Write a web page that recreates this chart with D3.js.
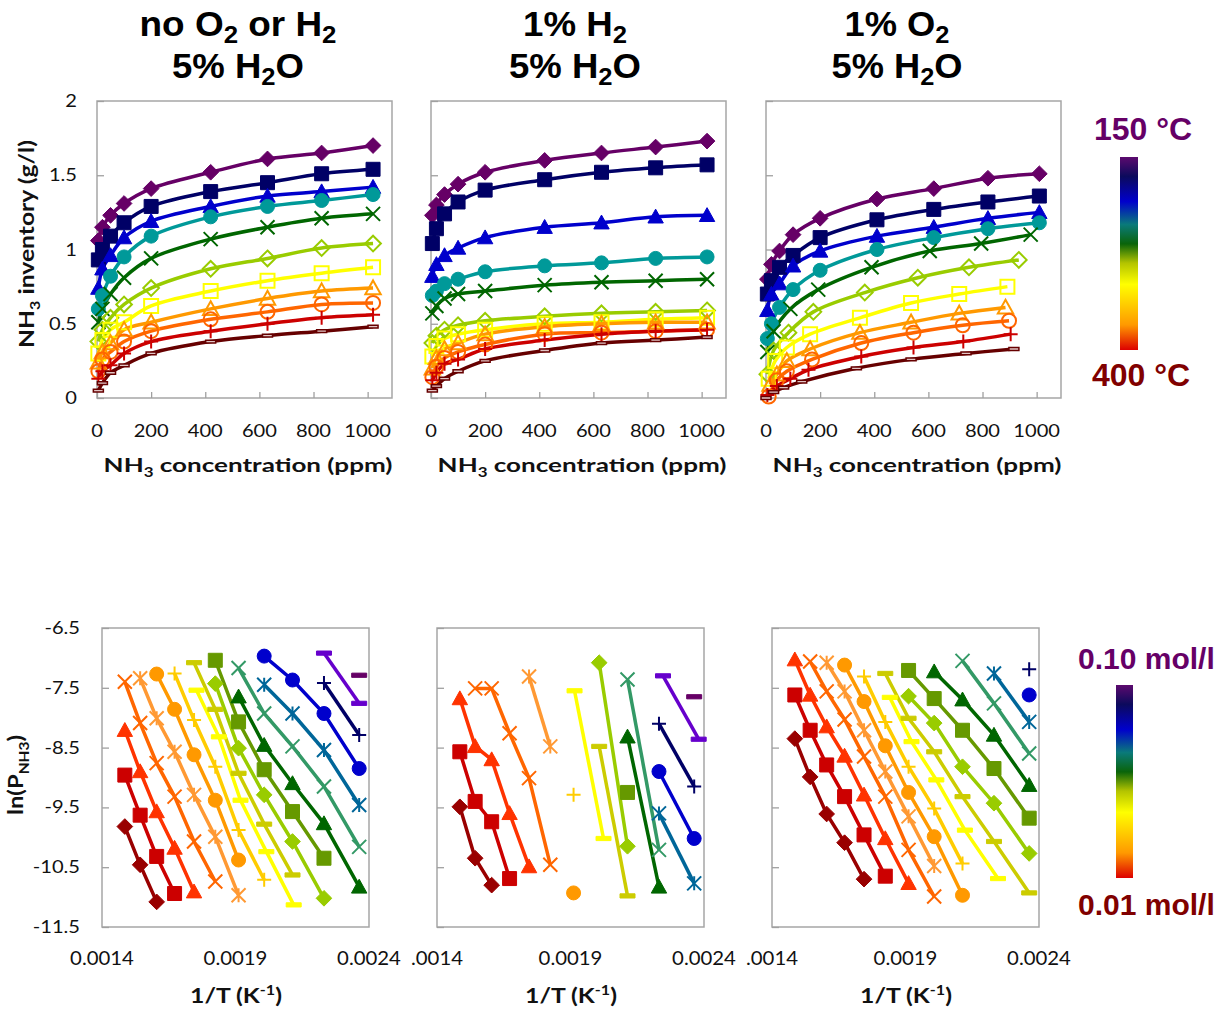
<!DOCTYPE html>
<html>
<head>
<meta charset="utf-8">
<script src="https://cdn.jsdelivr.net/npm/d3@7"></script>
<style>
  body { margin: 0; background: #fff; }
</style>
</head>
<body>
<div id="chart"></div>
<script>
// NH3 inventory isotherms (top row) and ln(P_NH3) vs 1/T (bottom row)

// ---------- top row ----------
const tempsC = [150, 175, 200, 225, 250, 275, 300, 325, 350, 375, 400];
const topColours = ["#660066", "#000066", "#0000cc", "#009999", "#006600", "#99cc00",
                    "#ffff00", "#ff9900", "#ff6600", "#cc0000", "#660000"];
const topMarkers = ["diamond", "square", "triangle", "circle", "x", "diamond-open",
                    "square-open", "triangle-open", "circle-open", "plus", "dash-open"];
const ppmShared = [5, 20, 50, 100, 200, 420, 630, 830, 1020];

// no O2 or H2, 5% H2O
const invNone = [
  [1.06, 1.15, 1.23, 1.31, 1.41, 1.52, 1.61, 1.65, 1.70],
  [0.93, 1.00, 1.09, 1.18, 1.29, 1.39, 1.45, 1.51, 1.54],
  [0.74, 0.87, 0.96, 1.08, 1.19, 1.29, 1.36, 1.39, 1.42],
  [0.60, 0.69, 0.82, 0.95, 1.09, 1.22, 1.29, 1.33, 1.37],
  [0.51, 0.60, 0.70, 0.81, 0.94, 1.07, 1.15, 1.21, 1.24],
  [0.38, 0.46, 0.54, 0.63, 0.74, 0.87, 0.94, 1.01, 1.04],
  [0.30, 0.39, 0.46, 0.51, 0.62, 0.72, 0.79, 0.84, 0.88],
  [0.24, 0.31, 0.37, 0.46, 0.51, 0.60, 0.67, 0.72, 0.74],
  [0.18, 0.26, 0.31, 0.38, 0.45, 0.53, 0.58, 0.63, 0.64],
  [0.13, 0.18, 0.22, 0.30, 0.38, 0.45, 0.50, 0.54, 0.56],
  [0.05, 0.10, 0.17, 0.22, 0.30, 0.38, 0.42, 0.45, 0.48]
];

// 1% H2, 5% H2O
const invH2 = [
  [1.23, 1.30, 1.37, 1.44, 1.52, 1.60, 1.65, 1.69, 1.73],
  [1.04, 1.14, 1.24, 1.32, 1.40, 1.47, 1.52, 1.55, 1.57],
  [0.82, 0.90, 0.96, 1.01, 1.08, 1.15, 1.18, 1.22, 1.23],
  [0.69, 0.72, 0.77, 0.80, 0.85, 0.89, 0.91, 0.94, 0.95],
  [0.57, 0.62, 0.67, 0.70, 0.72, 0.76, 0.78, 0.79, 0.80],
  [0.37, 0.42, 0.46, 0.49, 0.52, 0.55, 0.57, 0.58, 0.59],
  [0.28, 0.35, 0.40, 0.43, 0.46, 0.50, 0.51, 0.53, 0.54],
  [0.20, 0.27, 0.33, 0.37, 0.43, 0.48, 0.50, 0.51, 0.51],
  [0.14, 0.21, 0.27, 0.31, 0.36, 0.43, 0.44, 0.45, 0.46],
  [0.12, 0.17, 0.23, 0.26, 0.33, 0.39, 0.43, 0.45, 0.46],
  [0.05, 0.08, 0.13, 0.18, 0.25, 0.32, 0.37, 0.39, 0.41]
];

// 1% O2, 5% H2O (each temperature measured at its own concentrations)
const ppmO2 = [
  [5, 20, 50, 100, 200, 410, 620, 820, 1010],
  [5, 20, 50, 100, 200, 410, 620, 820, 1010],
  [5, 20, 50, 100, 200, 410, 620, 820, 1010],
  [5, 20, 50, 100, 200, 410, 620, 820, 1010],
  [5, 28, 90, 193, 390, 605, 795, 978],
  [5, 28, 83, 175, 365, 561, 750, 934],
  [10, 34, 77, 163, 347, 536, 714, 892],
  [15, 40, 77, 163, 347, 536, 714, 885],
  [10, 40, 77, 170, 352, 545, 727, 898],
  [5, 40, 90, 157, 352, 545, 729, 904],
  [0, 28, 65, 132, 334, 536, 739, 916]
];
const invO2 = [
  [0.80, 0.90, 0.99, 1.10, 1.21, 1.34, 1.41, 1.48, 1.51],
  [0.70, 0.79, 0.88, 0.96, 1.08, 1.20, 1.27, 1.32, 1.36],
  [0.59, 0.70, 0.77, 0.89, 0.99, 1.09, 1.15, 1.21, 1.25],
  [0.40, 0.50, 0.61, 0.73, 0.86, 1.00, 1.08, 1.14, 1.18],
  [0.31, 0.45, 0.60, 0.73, 0.88, 0.99, 1.04, 1.10],
  [0.16, 0.32, 0.44, 0.58, 0.71, 0.81, 0.88, 0.93],
  [0.13, 0.25, 0.34, 0.43, 0.54, 0.64, 0.70, 0.75],
  [0.09, 0.16, 0.25, 0.33, 0.44, 0.51, 0.57, 0.61],
  [0.01, 0.12, 0.18, 0.26, 0.37, 0.44, 0.49, 0.52],
  [0.02, 0.08, 0.13, 0.19, 0.28, 0.34, 0.38, 0.43],
  [0.00, 0.04, 0.07, 0.11, 0.20, 0.26, 0.30, 0.33]
];
const topTicksX = [0, 200, 400, 600, 800, 1000];
const topTicksY = [0, 0.5, 1, 1.5, 2];

// ---------- bottom row: [temperature degC, ln(P_NH3)] per NH3 loading ----------
const botColours = ["#990000", "#cc0000", "#ff3300", "#ff6600", "#ff9933", "#ff9900",
                    "#ffcc00", "#cccc00", "#ffff00", "#99cc00", "#669900", "#006600",
                    "#339966", "#006699", "#0000cc", "#000066", "#6600cc", "#660066"];
const botMarkers = ["diamond", "square", "triangle", "x", "star", "circle", "plus", "dash", "dash",
                    "diamond", "square", "triangle", "x", "star", "circle", "plus", "dash", "dash"];

const lnNone = [
  [[400, -9.82], [375, -10.46], [350, -11.08]],
  [[400, -8.96], [375, -9.63], [350, -10.32], [325, -10.94]],
  [[400, -8.21], [375, -8.90], [350, -9.57], [325, -10.18], [300, -10.91]],
  [[400, -7.40], [375, -8.09], [350, -8.76], [325, -9.32], [300, -10.07], [275, -10.74]],
  [[375, -7.34], [350, -8.01], [325, -8.57], [300, -9.29], [275, -9.99], [250, -10.97]],
  [[350, -7.27], [325, -7.86], [300, -8.62], [275, -9.38], [250, -10.38]],
  [[325, -7.26], [300, -8.04], [275, -8.82], [250, -9.88], [225, -10.71]],
  [[300, -7.08], [275, -7.86], [250, -8.93], [225, -9.78], [200, -10.63]],
  [[297, -7.54], [271, -8.32], [248, -9.38], [223, -10.24], [199, -11.13]],
  [[275, -7.43], [250, -8.51], [225, -9.29], [200, -10.07], [175, -11.02]],
  [[275, -7.04], [250, -8.07], [225, -8.87], [200, -9.57], [175, -10.35]],
  [[250, -7.65], [225, -8.46], [200, -9.10], [175, -9.77], [150, -10.83]],
  [[250, -7.17], [225, -7.93], [200, -8.48], [175, -9.15], [150, -10.16]],
  [[225, -7.45], [200, -7.93], [175, -8.54], [150, -9.46]],
  [[225, -6.97], [200, -7.37], [175, -7.93], [150, -8.85]],
  [[175, -7.42], [150, -8.29]],
  [[175, -6.92], [150, -7.76]],
  [[150, -7.29]]
];
const lnH2 = [
  [[400, -9.49], [375, -10.35], [350, -10.80]],
  [[400, -8.57], [375, -9.40], [350, -9.74], [325, -10.69]],
  [[400, -7.68], [375, -8.48], [350, -8.70], [325, -9.60], [300, -10.49]],
  [[375, -7.51], [350, -7.51], [325, -8.26], [300, -9.01], [275, -10.46]],
  [[300, -7.31], [275, -8.48]],
  [[250, -10.93]],
  [[250, -9.29]],
  [[225, -8.48], [200, -10.98]],
  [[249, -7.55], [221, -10.02]],
  [[225, -7.08], [200, -10.15]],
  [[200, -9.25]],
  [[200, -8.32], [175, -10.83]],
  [[200, -7.36], [175, -10.21]],
  [[175, -9.60], [150, -10.77]],
  [[175, -8.90], [150, -10.02]],
  [[175, -8.10], [150, -9.15]],
  [[172, -7.30], [147, -8.36]],
  [[150, -7.65]]
];
const lnO2 = [
  [[400, -8.35], [375, -8.99], [350, -9.61], [325, -10.09], [300, -10.70]],
  [[400, -7.62], [375, -8.21], [350, -8.79], [325, -9.32], [300, -9.96], [275, -10.65]],
  [[400, -7.03], [375, -7.62], [350, -8.15], [325, -8.64], [300, -9.29], [275, -10.02], [250, -10.77]],
  [[375, -7.06], [350, -7.56], [325, -8.03], [300, -8.65], [275, -9.32], [250, -10.21], [225, -10.99]],
  [[350, -7.08], [325, -7.56], [300, -8.21], [275, -8.90], [250, -9.65], [225, -10.48]],
  [[325, -7.12], [300, -7.73], [275, -8.47], [250, -9.25], [225, -9.99], [200, -10.97]],
  [[300, -7.31], [275, -8.07], [250, -8.82], [225, -9.52], [200, -10.44]],
  [[275, -7.26], [250, -8.01], [225, -8.57], [200, -9.32], [175, -10.07], [150, -10.93]],
  [[270, -7.66], [247, -8.40], [223, -9.04], [198, -9.88], [172, -10.69]],
  [[250, -7.64], [225, -8.09], [200, -8.82], [175, -9.43], [150, -10.27]],
  [[250, -7.21], [225, -7.68], [200, -8.21], [175, -8.85], [150, -9.68]],
  [[225, -7.23], [200, -7.70], [175, -8.29], [150, -9.13]],
  [[200, -7.05], [175, -7.76], [150, -8.60]],
  [[175, -7.26], [150, -8.07]],
  [[150, -7.62]],
  [[150, -7.19]],
  [],
  []
];
const botTicksX = [0.0014, 0.0019, 0.0024];
const botTickLabels = [["0.0014", "0.0019", "0.0024"], [".0014", "0.0019", "0.0024"], [".0014", "0.0019", "0.0024"]];
const botTicksY = [-6.5, -7.5, -8.5, -9.5, -10.5, -11.5];

const panelTitles = [
  [[["no O"], ["2", "sub"], [" or H"], ["2", "sub"]], [["5% H"], ["2", "sub"], ["O"]]],
  [[["1% H"], ["2", "sub"]], [["5% H"], ["2", "sub"], ["O"]]],
  [[["1% O"], ["2", "sub"]], [["5% H"], ["2", "sub"], ["O"]]]
];
const rainbow = [
  [0.00, "#5c0a6e"], [0.10, "#0c0a5c"], [0.23, "#0000cc"], [0.35, "#0a7a7a"],
  [0.45, "#0a640a"], [0.55, "#b4c400"], [0.66, "#ffff00"], [0.87, "#ff9900"], [1.00, "#dd0000"]
];

// ---------- layout ----------
const W = 1223, H = 1009;
const topLefts = [97, 431, 766], topW = 295, topTop = 101, topH = 297;
const botLefts = [102, 437, 772], botW = 267, botTop = 628, botH = 299;
const titleCentres = [238, 575, 897];
const titleWidths = [[197, 132], [104, 132], [105, 131]];
const calibri = "Lato, 'Open Sans', sans-serif";
const arial = "'Liberation Sans', Arial, sans-serif";

const svg = d3.select("#chart").append("svg")
  .attr("width", W).attr("height", H)
  .style("background", "#fff");

// marker shapes, drawn around the data point
const shapes = {
  square: { draw(c, r) { c.rect(-r, -r, 2 * r, 2 * r); } },
  diamond: { draw(c, r) { const d = r * 1.12; c.moveTo(0, -d); c.lineTo(d, 0); c.lineTo(0, d); c.lineTo(-d, 0); c.closePath(); } },
  triangle: { draw(c, r) { const h = r * 1.1; c.moveTo(0, -h); c.lineTo(h, h * 0.8); c.lineTo(-h, h * 0.8); c.closePath(); } },
  circle: { draw(c, r) { c.moveTo(r, 0); c.arc(0, 0, r, 0, 2 * Math.PI); } },
  x: { draw(c, r) { c.moveTo(-r, -r); c.lineTo(r, r); c.moveTo(r, -r); c.lineTo(-r, r); } },
  star: { draw(c, r) { c.moveTo(-r, -r); c.lineTo(r, r); c.moveTo(r, -r); c.lineTo(-r, r); c.moveTo(0, -r); c.lineTo(0, r); } },
  plus: { draw(c, r) { c.moveTo(-r, 0); c.lineTo(r, 0); c.moveTo(0, -r); c.lineTo(0, r); } },
  dash: { draw(c, r) { c.rect(-r, -r * 0.28, 2 * r, r * 0.56); } }
};

function styleMarker(sel, spec, colour) {
  const [shape, variant] = spec.split("-");
  if (shape === "x" || shape === "plus" || shape === "star") {
    sel.attr("fill", "none").attr("stroke", colour).attr("stroke-width", 2);
  } else if (variant === "open") {
    sel.attr("fill", shape === "dash" ? "#e2c4c4" : "none").attr("stroke", colour)
      .attr("stroke-width", shape === "dash" ? 1.5 : 2);
  } else {
    sel.attr("fill", colour).attr("stroke", colour).attr("stroke-width", 1);
  }
}

// text with optional sub/superscripts, horizontal stretch and rotation
function richText(parent, x, y, segs, o) {
  const t = parent.append("text")
    .attr("text-anchor", o.anchor || "middle")
    .attr("font-family", o.family || calibri)
    .attr("font-size", o.size)
    .attr("font-weight", o.weight || "normal")
    .attr("fill", o.fill || "#000");
  const subShift = o.subShift || 0.28;
  let shift = 0;
  segs.forEach(([s, kind]) => {
    const target = kind === "sub" ? o.size * subShift : kind === "sup" ? -o.size * 0.38 : 0;
    const sp = t.append("tspan").text(s).attr("dy", target - shift);
    if (kind) sp.attr("font-size", o.size * (o.subSize || 0.65));
    shift = target;
  });
  let sx = o.sx || 1;
  if (o.width) sx = o.width / t.node().getBBox().width;
  t.attr("transform", `translate(${x},${y})` + (o.rotate ? ` rotate(${o.rotate})` : "") + ` scale(${sx},1)`);
  return t;
}

function styleAxis(g) {
  g.selectAll(".domain").remove();
  g.selectAll(".tick line").attr("stroke", "#a0a0a0").attr("stroke-width", 1.3);
}

// ---------- top panels ----------
function drawTop(i, inventory, ppmFor) {
  const left = topLefts[i];
  const x = d3.scaleLinear().domain([0, 1090]).range([left, left + topW]);
  const y = d3.scaleLinear().domain([0, 2]).range([topTop + topH, topTop]);
  const g = svg.append("g");

  g.append("rect").attr("x", left).attr("y", topTop).attr("width", topW).attr("height", topH)
    .attr("fill", "none").attr("stroke", "#a6a6a6").attr("stroke-width", 1.5);
  g.append("g").attr("transform", `translate(0,${topTop + topH})`)
    .call(d3.axisBottom(x).tickValues(topTicksX).tickSize(-6).tickFormat(""))
    .call(styleAxis);
  g.append("g").attr("transform", `translate(${left},0)`)
    .call(d3.axisLeft(y).tickValues(topTicksY).tickSize(-7).tickFormat(""))
    .call(styleAxis);

  topTicksX.forEach(v => richText(g, x(v), 437, [[String(v)]], { size: 16.5, sx: 1.22, fill: "#111" }));
  if (i === 0) {
    topTicksY.forEach(v => richText(g, 77, y(v) + 6, [[String(v)]], { size: 16.5, sx: 1.22, anchor: "end", fill: "#111" }));
  }
  richText(g, left + 151, 472, [["NH"], ["3", "sub"], [" concentration (ppm)"]],
    { size: 19.5, weight: "bold", width: 289, fill: "#111" });

  const line = d3.line().curve(d3.curveCatmullRom.alpha(0.5))
    .x(d => x(d[0])).y(d => y(d[1]));

  const series = inventory.map((vals, k) => ({
    k, pts: vals.map((v, j) => [ppmFor(k)[j], v])
  }));

  g.append("g").selectAll("path").data(series).join("path")
    .attr("d", s => line(s.pts))
    .attr("fill", "none")
    .attr("stroke", s => topColours[s.k])
    .attr("stroke-width", 3.5);

  series.forEach(s => {
    g.append("g").selectAll("path").data(s.pts).join("path")
      .attr("transform", d => `translate(${x(d[0])},${y(d[1])})`)
      .attr("d", d3.symbol(shapes[topMarkers[s.k].split("-")[0]], topMarkers[s.k].startsWith("dash") ? 5 : 7))
      .call(sel => styleMarker(sel, topMarkers[s.k], topColours[s.k]));
  });

  // panel title, two lines
  panelTitles[i].forEach((segs, li) => {
    richText(svg, titleCentres[i], [36, 78][li], segs,
      { size: 35, weight: "bold", family: arial, width: titleWidths[i][li], subShift: 0.2, subSize: 0.7 });
  });
}

drawTop(0, invNone, () => ppmShared);
drawTop(1, invH2, () => ppmShared);
drawTop(2, invO2, k => ppmO2[k]);

richText(svg, 34, 244, [["NH"], ["3", "sub"], [" inventory (g/l)"]],
  { size: 21, weight: "bold", rotate: -90, width: 208, fill: "#111" });

// ---------- bottom panels ----------
function drawBottom(i, data) {
  const left = botLefts[i];
  const x = d3.scaleLinear().domain([0.0014, 0.0024]).range([left, left + botW]);
  const y = d3.scaleLinear().domain([-11.5, -6.5]).range([botTop + botH, botTop]);
  const g = svg.append("g");

  g.append("rect").attr("x", left).attr("y", botTop).attr("width", botW).attr("height", botH)
    .attr("fill", "none").attr("stroke", "#a6a6a6").attr("stroke-width", 1.5);
  g.append("g").attr("transform", `translate(${left},0)`)
    .call(d3.axisLeft(y).tickValues(botTicksY).tickSize(-7).tickFormat(""))
    .call(styleAxis);

  botTicksX.forEach((v, j) => richText(g, x(v), 965, [[botTickLabels[i][j]]], { size: 18.5, sx: 1.1, fill: "#111" }));
  if (i === 0) {
    botTicksY.forEach(v => richText(g, 80, y(v) + 6, [[String(v)]], { size: 16.5, sx: 1.22, anchor: "end", fill: "#111" }));
  }
  richText(g, left + 134, 1003, [["1/T (K"], ["-1", "sup"], [")"]],
    { size: 20, weight: "bold", width: 92, fill: "#111" });

  const invT = t => 1 / (t + 273.15);
  const line = d3.line().x(d => x(invT(d[0]))).y(d => y(d[1]));

  g.append("g").selectAll("path").data(data.map((pts, k) => ({ k, pts })).filter(s => s.pts.length > 1))
    .join("path")
    .attr("d", s => line(s.pts))
    .attr("fill", "none")
    .attr("stroke", s => botColours[s.k])
    .attr("stroke-width", 3.5);

  data.forEach((pts, k) => {
    g.append("g").selectAll("path").data(pts).join("path")
      .attr("transform", d => `translate(${x(invT(d[0]))},${y(d[1])})`)
      .attr("d", d3.symbol(shapes[botMarkers[k]], botMarkers[k] === "dash" ? 7.5 : 7))
      .call(sel => styleMarker(sel, botMarkers[k], botColours[k]));
  });
}

drawBottom(0, lnNone);
drawBottom(1, lnH2);
drawBottom(2, lnO2);

richText(svg, 23, 775, [["ln(P"], ["NH3", "sub"], [")"]],
  { size: 20, weight: "bold", rotate: -90, width: 80, fill: "#111" });

// ---------- colour bars ----------
const defs = svg.append("defs");
const grad = defs.append("linearGradient").attr("id", "rainbow")
  .attr("x1", 0).attr("y1", 0).attr("x2", 0).attr("y2", 1);
grad.selectAll("stop").data(rainbow).join("stop")
  .attr("offset", d => d[0]).attr("stop-color", d => d[1]);

svg.append("rect").attr("x", 1120).attr("y", 157).attr("width", 18).attr("height", 193).attr("fill", "url(#rainbow)");
richText(svg, 1143, 140, [["150 °C"]], { size: 32, weight: "bold", family: arial, fill: "#660066" });
richText(svg, 1141, 386, [["400 °C"]], { size: 32, weight: "bold", family: arial, fill: "#800000" });

svg.append("rect").attr("x", 1116).attr("y", 685).attr("width", 17).attr("height", 193).attr("fill", "url(#rainbow)");
richText(svg, 1078, 669, [["0.10 mol/l"]], { size: 30, weight: "bold", family: arial, anchor: "start", fill: "#660066" });
richText(svg, 1078, 915, [["0.01 mol/l"]], { size: 30, weight: "bold", family: arial, anchor: "start", fill: "#800000" });
</script>
</body>
</html>
